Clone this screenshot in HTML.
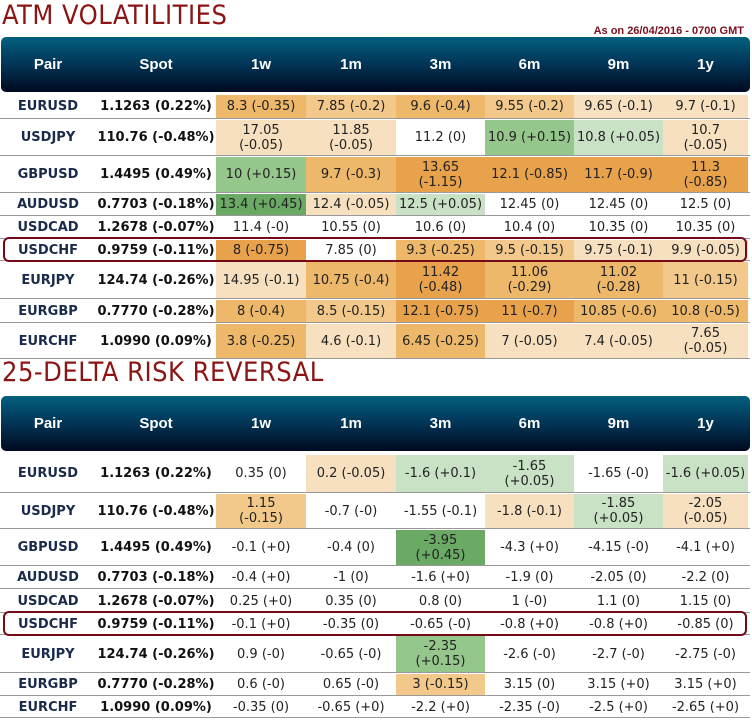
<!DOCTYPE html>
<html><head><meta charset="utf-8">
<style>
body{margin:0;width:752px;height:720px;background:#fff;position:relative;overflow:hidden;font-family:"DejaVu Sans","Liberation Sans",sans-serif;}
.t{position:absolute;left:2px;color:#8b1414;font-size:27px;letter-spacing:0.5px;font-family:"DejaVu Sans Condensed","DejaVu Sans",sans-serif;}
.asof{position:absolute;right:8px;top:25px;color:#7a1020;font-size:11px;font-weight:bold;font-family:"Liberation Sans",sans-serif;}
.hdr{position:absolute;left:1px;width:749px;border-radius:5px;background:linear-gradient(#03607f,#02385a 45%,#000a20);}
.h{position:absolute;color:#fff;font-weight:bold;font-size:15px;text-align:center;font-family:"Liberation Sans",sans-serif;}
.c{position:absolute;display:flex;align-items:center;justify-content:center;text-align:center;font-size:13px;color:#222;line-height:15px;}
.pair{font-weight:bold;color:#1a2a4a;}
.spot{font-weight:bold;color:#111;}
.ln{position:absolute;left:0;width:750px;height:1px;background:#999;}
.hl{position:absolute;border:2.5px solid #740a18;border-radius:6px;box-sizing:border-box;}
</style></head><body>
<div class="t" style="top:0px">ATM VOLATILITIES</div>
<div class="asof">As on 26/04/2016 - 0700 GMT</div>
<div class="t" style="top:357px">25-DELTA RISK REVERSAL</div>
<div id="root"></div>
<script>
const cols=[[0,96],[96,216],[216,306],[306,396],[396,485],[485,574],[574,663],[663,748]];
const heads=["Pair","Spot","1w","1m","3m","6m","9m","1y"];
const pairs=["EURUSD","USDJPY","GBPUSD","AUDUSD","USDCAD","USDCHF","EURJPY","EURGBP","EURCHF"];
const spots=["1.1263 (0.22%)","110.76 (-0.48%)","1.4495 (0.49%)","0.7703 (-0.18%)","1.2678 (-0.07%)","0.9759 (-0.11%)","124.74 (-0.26%)","0.7770 (-0.28%)","1.0990 (0.09%)"];
const atmVals=[
["8.3 (-0.35)","7.85 (-0.2)","9.6 (-0.4)","9.55 (-0.2)","9.65 (-0.1)","9.7 (-0.1)"],
["17.05<br>(-0.05)","11.85<br>(-0.05)","11.2 (0)","10.9 (+0.15)","10.8 (+0.05)","10.7<br>(-0.05)"],
["10 (+0.15)","9.7 (-0.3)","13.65<br>(-1.15)","12.1 (-0.85)","11.7 (-0.9)","11.3<br>(-0.85)"],
["13.4 (+0.45)","12.4 (-0.05)","12.5 (+0.05)","12.45 (0)","12.45 (0)","12.5 (0)"],
["11.4 (-0)","10.55 (0)","10.6 (0)","10.4 (0)","10.35 (0)","10.35 (0)"],
["8 (-0.75)","7.85 (0)","9.3 (-0.25)","9.5 (-0.15)","9.75 (-0.1)","9.9 (-0.05)"],
["14.95 (-0.1)","10.75 (-0.4)","11.42<br>(-0.48)","11.06<br>(-0.29)","11.02<br>(-0.28)","11 (-0.15)"],
["8 (-0.4)","8.5 (-0.15)","12.1 (-0.75)","11 (-0.7)","10.85 (-0.6)","10.8 (-0.5)"],
["3.8 (-0.25)","4.6 (-0.1)","6.45 (-0.25)","7 (-0.05)","7.4 (-0.05)","7.65<br>(-0.05)"]];
const rrVals=[
["0.35 (0)","0.2 (-0.05)","-1.6 (+0.1)","-1.65<br>(+0.05)","-1.65 (-0)","-1.6 (+0.05)"],
["1.15<br>(-0.15)","-0.7 (-0)","-1.55 (-0.1)","-1.8 (-0.1)","-1.85<br>(+0.05)","-2.05<br>(-0.05)"],
["-0.1 (+0)","-0.4 (0)","-3.95<br>(+0.45)","-4.3 (+0)","-4.15 (-0)","-4.1 (+0)"],
["-0.4 (+0)","-1 (0)","-1.6 (+0)","-1.9 (0)","-2.05 (0)","-2.2 (0)"],
["0.25 (+0)","0.35 (0)","0.8 (0)","1 (-0)","1.1 (0)","1.15 (0)"],
["-0.1 (+0)","-0.35 (0)","-0.65 (-0)","-0.8 (+0)","-0.8 (+0)","-0.85 (0)"],
["0.9 (-0)","-0.65 (-0)","-2.35<br>(+0.15)","-2.6 (-0)","-2.7 (-0)","-2.75 (-0)"],
["0.6 (-0)","0.65 (-0)","3 (-0.15)","3.15 (0)","3.15 (+0)","3.15 (+0)"],
["-0.35 (0)","-0.65 (+0)","-2.2 (+0)","-2.35 (-0)","-2.5 (+0)","-2.65 (+0)"]];
const atmCol=["OMOMLL","LLWGgL","GODDDD","KLgWWW","WWWWWW","DWOMLL","LODOOM","OMDDOO","OLOLLL"];
const rrCol=["WLggWg","MWWLgL","WWKWWW","WWWWWW","WWWWWW","WWWWWW","WWGWWW","WWMWWW","WWWWWW"];
const pal={W:"#ffffff",L:"#f7e0bf",M:"#f2c98a",O:"#edb86a",D:"#e8a24c",g:"#c9e2c6",G:"#95c78d",K:"#6aaa64"};
const atmRows=[95,118,155,192,215,238,260,298,322,358];
const rrRows=[455,492,528,565,588,612,634,672,695,717];
const root=document.getElementById('root');
function build(prefix,hy,rows,vals,colr){
  const hd=document.createElement('div');hd.className='hdr';
  hd.style.top=hy+'px';hd.style.height='55px';
  
  
  root.appendChild(hd);
  heads.forEach((h,i)=>{const e=document.createElement('div');e.className='h';
    e.style.left=cols[i][0]+'px';e.style.width=(cols[i][1]-cols[i][0])+'px';e.style.top=(hy+19)+'px';
    e.textContent=h;
    
    
    root.appendChild(e);});
  for(let r=0;r<pairs.length;r++){
    const y0=rows[r],y1=rows[r+1];
    const ln=document.createElement('div');ln.className='ln';ln.style.top=(y1)+'px';
    
    
    root.appendChild(ln);
    for(let c=0;c<8;c++){
      const e=document.createElement('div');e.className='c'+(c==0?' pair':c==1?' spot':'');
      e.style.left=cols[c][0]+'px';e.style.width=(cols[c][1]-cols[c][0])+'px';
      e.style.top=(y0+(r==0?0:2))+'px';e.style.height=(y1-y0-(r==0?0:2))+'px';
      if(c==0)e.textContent=pairs[r];
      else if(c==1)e.textContent=spots[r];
      else {e.innerHTML=vals[r][c-2];e.style.background=pal[colr[r][c-2]];}
      
      
      root.appendChild(e);
    }
  }
  const hl=document.createElement('div');hl.className='hl';
  hl.style.left='3px';hl.style.width='744px';hl.style.top=(rows[5]-1)+'px';hl.style.height=(rows[6]-rows[5]+3)+'px';
  
  
  root.appendChild(hl);
}
build('atm',37,atmRows,atmVals,atmCol);
build('rr',396,rrRows,rrVals,rrCol);
</script>
</body></html>
